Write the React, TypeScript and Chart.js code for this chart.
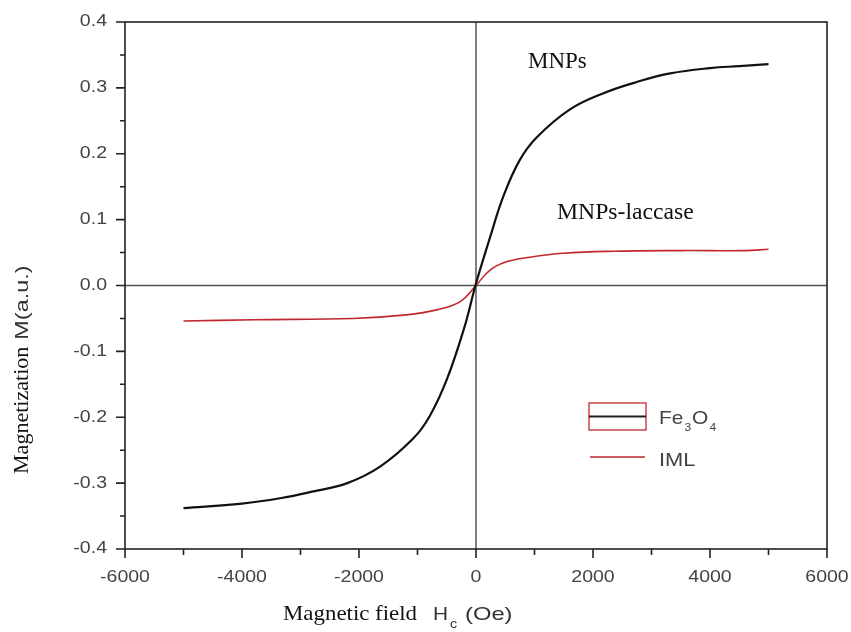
import React, { useEffect, useRef } from "react";
import { Chart, registerables } from "chart.js";
Chart.register(...registerables);

// Fe3O4 (MNPs) curve
const fe3o4X = [-5000, -4000, -3350, -2800, -2200, -1640, -1070, -790, -500, -200, 0, 240, 470, 745, 1040, 1600, 2180, 2750, 3320, 4000, 4500, 5000];
const fe3o4Y = [-0.338, -0.331, -0.323, -0.313, -0.300, -0.275, -0.232, -0.198, -0.143, -0.064, 0.003, 0.073, 0.136, 0.190, 0.225, 0.267, 0.292, 0.309, 0.322, 0.330, 0.333, 0.336];
// IML (MNPs-laccase) curve
const imlX = [-5000, -3800, -2100, -1240, -670, -270, 0, 240, 520, 920, 1490, 2350, 3500, 4600, 5000];
const imlY = [-0.054, -0.052, -0.050, -0.045, -0.037, -0.0245, 0, 0.0235, 0.036, 0.043, 0.049, 0.052, 0.053, 0.053, 0.055];

const xTicks = [-6000, -4000, -2000, 0, 2000, 4000, 6000];
const xMinorTicks = [-5000, -3000, -1000, 1000, 3000, 5000];
const yTicks = [-0.4, -0.3, -0.2, -0.1, 0.0, 0.1, 0.2, 0.3, 0.4];
const yMinorTicks = [-0.35, -0.25, -0.15, -0.05, 0.05, 0.15, 0.25, 0.35];
const seriesNames = ["Fe3O4", "IML"];
const annotationTexts = ["MNPs", "MNPs-laccase"];

const SANS = "'Liberation Sans', Arial, sans-serif";
const SERIF = "'Liberation Serif', 'Times New Roman', serif";

function drawStretched(ctx: CanvasRenderingContext2D, text: string, x: number, y: number, font: string, sx: number, align: CanvasTextAlign, baseline: CanvasTextBaseline, color: string) {
  ctx.save();
  ctx.font = font;
  ctx.fillStyle = color;
  ctx.textAlign = align;
  ctx.textBaseline = baseline;
  ctx.translate(x, y);
  ctx.scale(sx, 1);
  ctx.fillText(text, 0, 0);
  const w = ctx.measureText(text).width * sx;
  ctx.restore();
  return w;
}

const decorPlugin = {
  id: "decor",
  beforeDatasetsDraw(chart: any) {
    const ctx: CanvasRenderingContext2D = chart.ctx;
    const xs = chart.scales.x;
    const ys = chart.scales.y;
    const a = chart.chartArea;
    ctx.save();
    ctx.strokeStyle = "#555";
    ctx.lineWidth = 1.5;
    const x0 = xs.getPixelForValue(0);
    const y0 = ys.getPixelForValue(0);
    ctx.beginPath();
    ctx.moveTo(x0, a.top);
    ctx.lineTo(x0, a.bottom);
    ctx.moveTo(a.left, y0);
    ctx.lineTo(a.right, y0);
    ctx.stroke();
    ctx.restore();
  },
  afterDraw(chart: any) {
    const ctx: CanvasRenderingContext2D = chart.ctx;
    const xs = chart.scales.x;
    const ys = chart.scales.y;
    const a = chart.chartArea;
    ctx.save();
    ctx.strokeStyle = "#222";
    ctx.lineWidth = 1.6;
    ctx.strokeRect(a.left, a.top, a.right - a.left, a.bottom - a.top);
    ctx.beginPath();
    xTicks.forEach((v) => {
      const p = xs.getPixelForValue(v);
      ctx.moveTo(p, a.bottom);
      ctx.lineTo(p, a.bottom + 9);
    });
    xMinorTicks.forEach((v) => {
      const p = xs.getPixelForValue(v);
      ctx.moveTo(p, a.bottom);
      ctx.lineTo(p, a.bottom + 6);
    });
    yTicks.forEach((v) => {
      const p = ys.getPixelForValue(v);
      ctx.moveTo(a.left, p);
      ctx.lineTo(a.left - 9, p);
    });
    yMinorTicks.forEach((v) => {
      const p = ys.getPixelForValue(v);
      ctx.moveTo(a.left, p);
      ctx.lineTo(a.left - 5, p);
    });
    ctx.stroke();
    ctx.restore();

    const tickFont = `16px ${SANS}`;
    const tickColor = "#444";
    xTicks.forEach((v) => {
      drawStretched(ctx, String(v), xs.getPixelForValue(v), a.bottom + 21, tickFont, 1.22, "center", "top", tickColor);
    });
    yTicks.forEach((v) => {
      drawStretched(ctx, v.toFixed(1), a.left - 18, ys.getPixelForValue(v), tickFont, 1.22, "right", "middle", tickColor);
    });

    drawStretched(ctx, annotationTexts[0], 528, 68, `23px ${SERIF}`, 1, "left", "alphabetic", "#111");
    drawStretched(ctx, annotationTexts[1], 557, 219, `23px ${SERIF}`, 1.03, "left", "alphabetic", "#111");

    let cx = 283;
    drawStretched(ctx, "Magnetic field", cx, 620, `22px ${SERIF}`, 1.04, "left", "alphabetic", "#111");
    cx = 433;
    cx += drawStretched(ctx, "H", cx, 620, `19px ${SANS}`, 1.1, "left", "alphabetic", "#333");
    cx += 2;
    drawStretched(ctx, "c", cx, 628, `13px ${SANS}`, 1.1, "left", "alphabetic", "#333");
    drawStretched(ctx, "(Oe)", 465, 620, `19px ${SANS}`, 1.25, "left", "alphabetic", "#333");

    ctx.save();
    ctx.translate(28, 474);
    ctx.rotate(-Math.PI / 2);
    let ty = 0;
    ty += drawStretched(ctx, "Magnetization", ty, 0, `21px ${SERIF}`, 1.05, "left", "alphabetic", "#111");
    ty += 7;
    drawStretched(ctx, "M(a.u.)", ty, 0, `18px ${SANS}`, 1.3, "left", "alphabetic", "#333");
    ctx.restore();

    ctx.save();
    ctx.strokeStyle = "#c0282d";
    ctx.lineWidth = 1.3;
    ctx.strokeRect(589, 403, 57, 27);
    ctx.strokeStyle = "#222";
    ctx.lineWidth = 2;
    ctx.beginPath();
    ctx.moveTo(589, 416.5);
    ctx.lineTo(646, 416.5);
    ctx.stroke();
    ctx.strokeStyle = "#c0282d";
    ctx.lineWidth = 1.6;
    ctx.beginPath();
    ctx.moveTo(590, 457);
    ctx.lineTo(645, 457);
    ctx.stroke();
    ctx.restore();
    const legFont = `19px ${SANS}`;
    const subFont = `11px ${SANS}`;
    const legColor = "#444";
    let lx = 659;
    const name0 = seriesNames[0];
    lx += drawStretched(ctx, name0.slice(0, 2), lx, 424, legFont, 1.1, "left", "alphabetic", legColor);
    lx += drawStretched(ctx, name0.slice(2, 3), lx + 1, 431, subFont, 1.1, "left", "alphabetic", legColor) + 2;
    lx += drawStretched(ctx, name0.slice(3, 4), lx, 424, legFont, 1.1, "left", "alphabetic", legColor);
    drawStretched(ctx, name0.slice(4, 5), lx + 1, 431, subFont, 1.1, "left", "alphabetic", legColor);
    drawStretched(ctx, seriesNames[1], 659, 466, legFont, 1.15, "left", "alphabetic", legColor);
  },
};

export default function App() {
  const ref = useRef<HTMLCanvasElement | null>(null);
  useEffect(() => {
    document.body.style.margin = "0";
    const canvas = ref.current;
    if (!canvas) return;
    const chart = new Chart(canvas, {
      type: "line",
      data: {
        datasets: [
          {
            label: seriesNames[0],
            data: fe3o4X.map((x, i) => ({ x, y: fe3o4Y[i] })),
            borderColor: "#111",
            borderWidth: 2.2,
            pointRadius: 0,
            tension: 0.4,
            fill: false,
          },
          {
            label: seriesNames[1],
            data: imlX.map((x, i) => ({ x, y: imlY[i] })),
            borderColor: "#c0282d",
            borderWidth: 1.6,
            pointRadius: 0,
            tension: 0.4,
            fill: false,
          },
        ],
      },
      options: {
        animation: false,
        responsive: false,
        devicePixelRatio: 1,
        layout: { padding: { left: 0, top: 22, right: 24, bottom: 0 } },
        plugins: { legend: { display: false }, tooltip: { enabled: false } },
        scales: {
          x: {
            type: "linear",
            min: -6000,
            max: 6000,
            grid: { display: false, drawTicks: false },
            border: { display: false },
            ticks: { display: false, stepSize: 2000 },
            afterFit: (s: any) => { s.height = 83; },
          },
          y: {
            type: "linear",
            min: -0.4,
            max: 0.4,
            grid: { display: false, drawTicks: false },
            border: { display: false },
            ticks: { display: false, stepSize: 0.1 },
            afterFit: (s: any) => { s.width = 125; },
          },
        },
      },
      plugins: [decorPlugin],
    } as any);
    return () => chart.destroy();
  }, []);
  return (
    <div style={{ position: "absolute", left: 0, top: 0, width: 851, height: 632, background: "#fff" }}>
      <canvas ref={ref} width={851} height={632} style={{ display: "block" }} />
    </div>
  );
}
